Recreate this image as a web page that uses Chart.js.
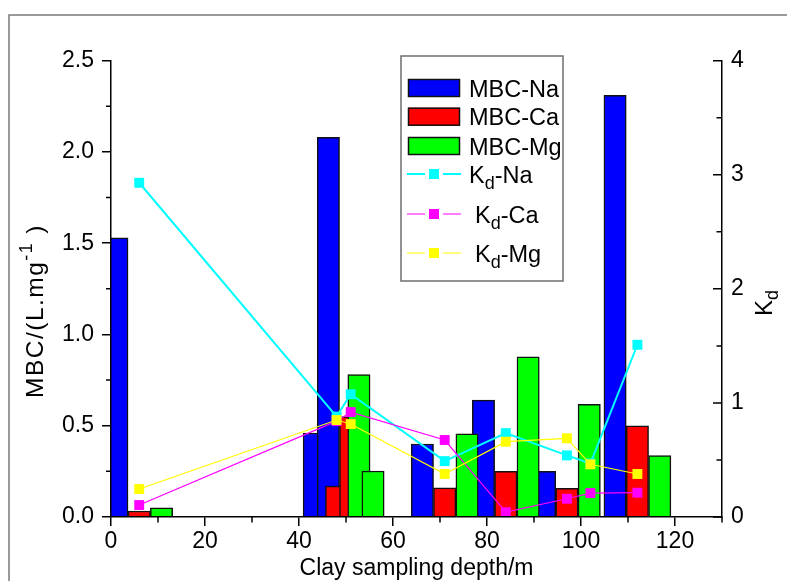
<!DOCTYPE html>
<html>
<head>
<meta charset="utf-8">
<script src="https://cdn.jsdelivr.net/npm/chart.js@4.4.1/dist/chart.umd.min.js"></script>
<style>
html,body{margin:0;padding:0;background:#fff;}
#wrap{width:787px;height:581px;position:relative;}
</style>
</head>
<body>
<div id="wrap"><canvas id="c"></canvas></div>
<script>
// ---- data ----
const depths = [6, 48, 51, 71, 84, 97, 102, 112];
const mbcNa  = [1.53, 0.46, 2.08, 0.40, 0.64, 0.25, null, 2.31];
const mbcCa  = [0.033, 0.17, 0.55, 0.16, 0.25, 0.157, null, 0.50];
const mbcMg  = [0.05, 0.78, 0.252, 0.456, 0.878, 0.617, null, 0.336];
const kdNa   = [2.93, 0.88, 1.076, 0.49, 0.735, 0.54, 0.47, 1.51];
const kdCa   = [0.105, 0.84, 0.92, 0.675, 0.042, 0.16, 0.21, 0.213];
const kdMg   = [0.245, 0.85, 0.815, 0.377, 0.66, 0.69, 0.462, 0.377];
const legendLabels = ['MBC-Na', 'MBC-Ca', 'MBC-Mg', 'Kd-Na', 'Kd-Ca', 'Kd-Mg'];
const xTitle = 'Clay sampling depth/m';
const yTitleMain = 'MBC/(L.mg', yTitleSup = '-1', yTitleEnd = ')';
const y2TitleMain = 'K', y2TitleSub = 'd';

// ---- styles / layout ----
const FONT = "'Liberation Sans', Arial, sans-serif";
const colors = { na: '#0000FF', ca: '#FF0000', mg: '#00FF00', kna: '#00FFFF', kca: '#FF00FF', kmg: '#FFFF00' };
const X_MAX = 130;
const PLOT_W = 611;                 // chart-area width in px (111 .. 722)
const BAR_W = 4.75;                 // one bar's width, in x-axis units
const BAR_PX = BAR_W * PLOT_W / X_MAX;

// bars of one group sit side by side around the group depth (Origin style)
function barPts(vals, slot) {
  return depths.map((d, i) => ({ x: d + slot * BAR_W, y: vals[i] })).filter(p => p.y !== null);
}
function linePts(vals) {
  return depths.map((d, i) => ({ x: d, y: vals[i] }));
}

function drawRich(ctx, segs, x, y) {
  for (const s of segs) {
    ctx.font = s.size + 'px ' + FONT;
    ctx.fillText(s.t, x, y + (s.dy || 0));
    x += ctx.measureText(s.t).width + (s.gap || 0);
  }
}
function richWidth(ctx, segs) {
  let w = 0;
  for (const s of segs) { ctx.font = s.size + 'px ' + FONT; w += ctx.measureText(s.t).width + (s.gap || 0); }
  return w;
}
function labelSegs(lbl) {
  if (lbl.startsWith('Kd')) {
    return [{ t: 'K', size: 23.5 }, { t: 'd', size: 18, dy: 6 }, { t: lbl.slice(2), size: 23.5 }];
  }
  return [{ t: lbl, size: 23.5 }];
}

const deco = {
  id: 'deco',
  beforeDraw(chart) {
    const c = chart.ctx;
    c.save();
    c.fillStyle = '#fff';
    c.fillRect(0, 0, chart.width, chart.height);
    c.strokeStyle = '#7a7a7a';
    c.lineWidth = 1.5;
    c.strokeRect(9, 15, chart.width + 20, chart.height + 20);
    c.restore();
  },
  afterDraw(chart) {
    const c = chart.ctx;
    const xs = chart.scales.x, yl = chart.scales.y, yr = chart.scales.y2;
    const a = chart.chartArea;
    c.save();
    c.strokeStyle = '#000';
    c.lineWidth = 1.5;
    c.beginPath();
    for (let v = 0.25; v < 2.5; v += 0.5) {
      const y = yl.getPixelForValue(v);
      c.moveTo(a.left, y); c.lineTo(a.left - 5, y);
    }
    for (let v = 10; v <= X_MAX; v += 20) {
      const x = xs.getPixelForValue(v);
      c.moveTo(x, a.bottom); c.lineTo(x, a.bottom + 5.5);
    }
    for (let v = 0; v <= 4; v += 1) {
      const y = yr.getPixelForValue(v);
      c.moveTo(a.right, y); c.lineTo(a.right - 9, y);
    }
    for (let v = 0.5; v < 4; v += 1) {
      const y = yr.getPixelForValue(v);
      c.moveTo(a.right, y); c.lineTo(a.right - 5.5, y);
    }
    c.stroke();

    c.fillStyle = '#000';
    c.textBaseline = 'alphabetic';
    c.textAlign = 'left';
    c.font = '23px ' + FONT;
    const xw = c.measureText(xTitle).width;
    c.fillText(xTitle, (a.left + a.right) / 2 - xw / 2, 575);

    const ySegs = [{ t: yTitleMain, size: 24.5 }, { t: yTitleSup, size: 18, dy: -11, gap: 8 }, { t: yTitleEnd, size: 24.5 }];
    c.save();
    c.translate(43, 311);
    c.rotate(-Math.PI / 2);
    c.letterSpacing = '1.5px';
    drawRich(c, ySegs, -richWidth(c, ySegs) / 2, 0);
    c.letterSpacing = '0px';
    c.restore();

    const rSegs = [{ t: y2TitleMain, size: 24 }, { t: y2TitleSub, size: 18, dy: 6 }];
    c.save();
    c.translate(772, 303);
    c.rotate(-Math.PI / 2);
    drawRich(c, rSegs, -richWidth(c, rSegs) / 2, 0);
    c.restore();

    const bx = 401, by = 56, bw = 162, bh = 225;
    c.fillStyle = '#fff';
    c.fillRect(bx, by, bw, bh);
    c.strokeStyle = '#6e6e6e';
    c.lineWidth = 1.5;
    c.strokeRect(bx, by, bw, bh);
    const rowY = [88, 116.7, 146, 174, 214, 253];
    const textX = [469, 469, 469, 469, 475, 475];
    const ds = chart.data.datasets;
    legendLabels.forEach((lbl, i) => {
      const d = ds.find(s => s.label === lbl);
      const cy = rowY[i];
      if (d.type === 'bar') {
        c.fillStyle = d.backgroundColor;
        c.fillRect(408, cy - 9, 52, 18);
        c.strokeStyle = '#111';
        c.lineWidth = 1.5;
        c.strokeRect(408.5, cy - 8.5, 51, 17);
      } else {
        c.strokeStyle = d.borderColor;
        c.lineWidth = d.borderWidth;
        c.beginPath();
        c.moveTo(407, cy); c.lineTo(425, cy);
        c.moveTo(443, cy); c.lineTo(461, cy);
        c.stroke();
        c.fillStyle = d.pointBackgroundColor;
        c.fillRect(429, cy - 5, 10, 10);
      }
      c.fillStyle = '#000';
      drawRich(c, labelSegs(lbl), textX[i], cy + 8.5);
    });
    c.restore();
  }
};

const tickFont = { family: FONT, size: 23 };
const barCommon = { type: 'bar', borderColor: '#111', borderWidth: 1.5, barThickness: BAR_PX, grouped: false, yAxisID: 'y', xAxisID: 'x', clip: { left: 0, top: false, right: false, bottom: false } };
const lineCommon = { type: 'line', pointStyle: 'rect', pointRadius: 7, pointHoverRadius: 7, pointBorderWidth: 0, tension: 0, fill: false, yAxisID: 'y2', xAxisID: 'x', clip: false };

new Chart(document.getElementById('c'), {
  type: 'bar',
  data: {
    datasets: [
      Object.assign({}, barCommon, { label: 'MBC-Na', data: barPts(mbcNa, -1), backgroundColor: colors.na, order: 5 }),
      Object.assign({}, barCommon, { label: 'MBC-Ca', data: barPts(mbcCa, 0), backgroundColor: colors.ca, order: 4 }),
      Object.assign({}, barCommon, { label: 'MBC-Mg', data: barPts(mbcMg, 1), backgroundColor: colors.mg, order: 3 }),
      Object.assign({}, lineCommon, { label: 'Kd-Na', data: linePts(kdNa), borderColor: colors.kna, backgroundColor: colors.kna, pointBackgroundColor: colors.kna, borderWidth: 2, order: 2 }),
      Object.assign({}, lineCommon, { label: 'Kd-Ca', data: linePts(kdCa), borderColor: colors.kca, backgroundColor: colors.kca, pointBackgroundColor: colors.kca, borderWidth: 1.2, order: 1 }),
      Object.assign({}, lineCommon, { label: 'Kd-Mg', data: linePts(kdMg), borderColor: colors.kmg, backgroundColor: colors.kmg, pointBackgroundColor: colors.kmg, borderWidth: 1.2, order: 0 })
    ]
  },
  options: {
    responsive: true,
    maintainAspectRatio: false,
    animation: false,
    layout: { padding: { top: 60.7, left: 0, right: 0, bottom: 0 } },
    plugins: { legend: { display: false }, tooltip: { enabled: false } },
    scales: {
      x: {
        type: 'linear', position: 'bottom', min: 0, max: X_MAX, offset: false,
        grid: { offset: false, drawOnChartArea: false, color: '#000', lineWidth: 1.5, tickLength: 9 },
        border: { color: '#000', width: 1.5, z: 1 },
        ticks: { stepSize: 20, includeBounds: false, color: '#000', font: tickFont, padding: 2, maxRotation: 0, autoSkip: false },
        afterFit(s) { s.height = 64; }
      },
      y: {
        type: 'linear', position: 'left', min: 0, max: 2.5,
        grid: { drawOnChartArea: false, color: '#000', lineWidth: 1.5, tickLength: 9 },
        border: { color: '#000', width: 1.5, z: 1 },
        ticks: { stepSize: 0.5, color: '#000', font: tickFont, padding: 8, callback: v => Number(v).toFixed(1) },
        afterFit(s) { s.width = 111; }
      },
      y2: {
        type: 'linear', position: 'right', min: 0, max: 4,
        grid: { display: false, drawTicks: false, drawOnChartArea: false },
        border: { color: '#000', width: 1.5, z: 1 },
        ticks: { stepSize: 1, color: '#000', font: tickFont, padding: 9, callback: v => String(v) },
        afterFit(s) { s.width = 65; }
      }
    }
  },
  plugins: [deco]
});
</script>
</body>
</html>
